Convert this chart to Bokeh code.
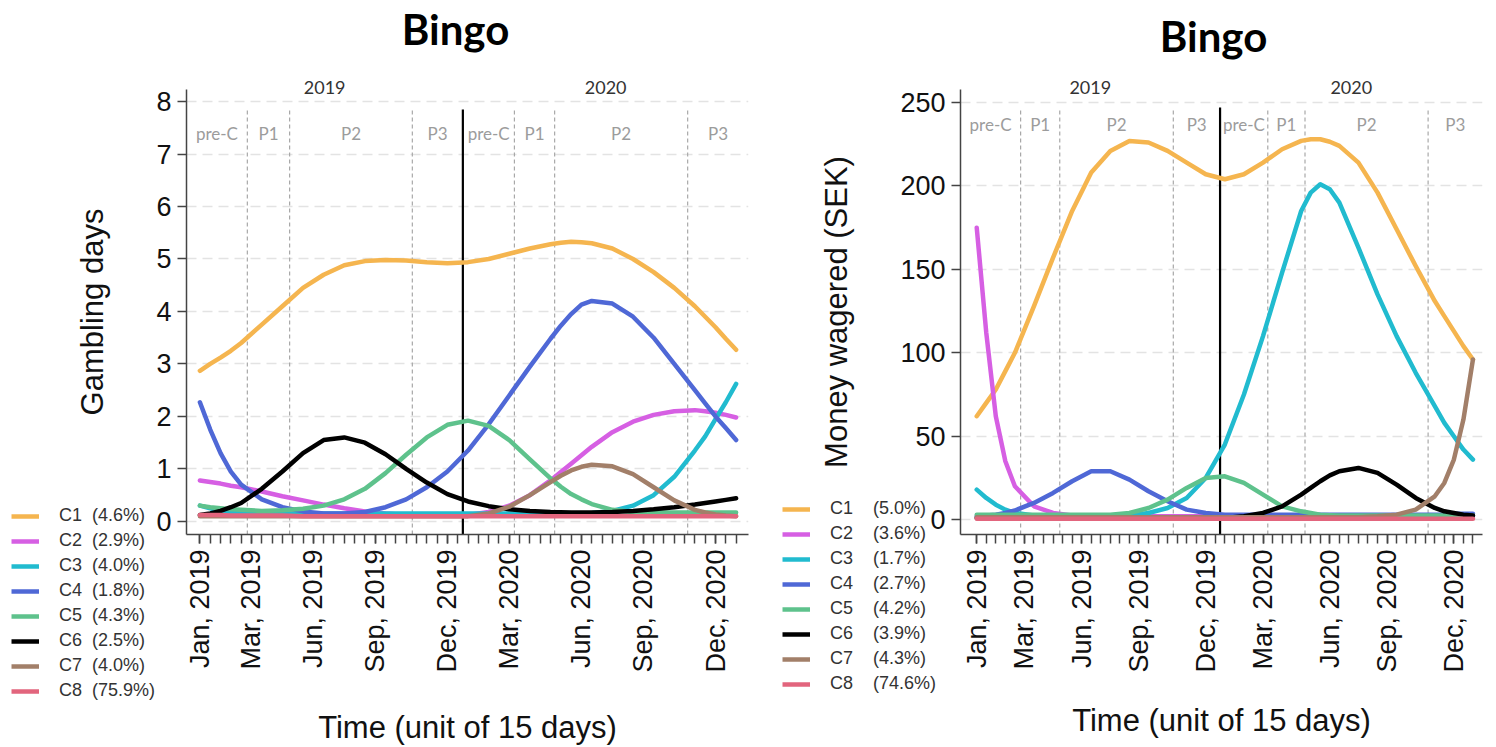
import numpy as np
from bokeh.plotting import figure
from bokeh.layouts import row
from bokeh.models import Range1d, FixedTicker, Label, Legend, LegendItem, LinearAxis
from bokeh.embed import file_html
from bokeh.resources import INLINE

# ---------------- data ----------------
t = [0, 1, 2, 3, 4, 6, 8, 10, 12, 14, 16, 18, 20, 22, 24, 26, 28, 30, 32, 34,
     35, 36, 37, 38, 40, 42, 44, 46, 48, 49, 50, 51, 52]

tick_pos = [0, 5, 11, 17, 24, 30, 37, 43, 50]
tick_labels = ["Jan, 2019", "Mar, 2019", "Jun, 2019", "Sep, 2019", "Dec, 2019",
               "Mar, 2020", "Jun, 2020", "Sep, 2020", "Dec, 2020"]
n_units = 53
year_boundary = 25.5
period_bounds = [4.6, 8.7, 20.6, 25.5, 30.5, 34.4, 47.3]
period_names = ["pre-C", "P1", "P2", "P3", "pre-C", "P1", "P2", "P3"]
years = ["2019", "2020"]
chart_title = "Bingo"

classes = ["C1", "C2", "C3", "C4", "C5", "C6", "C7", "C8"]
colors = ["#F5B54F", "#D65FE3", "#21BBCF", "#4F68D6", "#5EC28C", "#000000", "#A27F69", "#E2657D"]

days_share = ["4.6%", "2.9%", "4.0%", "1.8%", "4.3%", "2.5%", "4.0%", "75.9%"]
days_c1 = [2.87, 3.0, 3.12, 3.25, 3.4, 3.75, 4.1, 4.45, 4.7, 4.88, 4.96, 4.98, 4.97, 4.94, 4.92, 4.94,
           5.0, 5.1, 5.2, 5.28, 5.31, 5.33, 5.32, 5.3, 5.2, 5.0, 4.75, 4.45, 4.1, 3.9, 3.7, 3.48, 3.27]
days_c2 = [0.78, 0.75, 0.72, 0.68, 0.65, 0.57, 0.48, 0.4, 0.32, 0.25, 0.19, 0.15, 0.12, 0.11, 0.11, 0.12,
           0.18, 0.3, 0.5, 0.78, 0.94, 1.1, 1.26, 1.42, 1.7, 1.9, 2.03, 2.1, 2.12, 2.1, 2.07, 2.03, 1.98]
days_c3 = [0.3, 0.25, 0.2, 0.17, 0.16, 0.15, 0.15, 0.15, 0.15, 0.15, 0.15, 0.15, 0.15, 0.15, 0.15, 0.15,
           0.15, 0.15, 0.15, 0.15, 0.15, 0.15, 0.15, 0.16, 0.2, 0.3, 0.5, 0.85, 1.35, 1.62, 1.95, 2.27, 2.62]
days_c4 = [2.27, 1.75, 1.3, 0.95, 0.7, 0.42, 0.27, 0.19, 0.15, 0.15, 0.18, 0.27, 0.42, 0.65, 0.95, 1.35,
           1.85, 2.4, 2.95, 3.48, 3.73, 3.95, 4.13, 4.2, 4.15, 3.9, 3.5, 3.0, 2.5, 2.25, 2.0, 1.78, 1.55]
days_c5 = [0.3, 0.27, 0.25, 0.23, 0.22, 0.2, 0.21, 0.24, 0.3, 0.42, 0.62, 0.92, 1.27, 1.6, 1.84, 1.92,
           1.82, 1.55, 1.18, 0.82, 0.66, 0.52, 0.42, 0.33, 0.22, 0.18, 0.17, 0.17, 0.17, 0.17, 0.17, 0.17, 0.17]
days_c6 = [0.12, 0.15, 0.2, 0.27, 0.35, 0.62, 0.95, 1.3, 1.55, 1.6, 1.5, 1.28, 1.0, 0.74, 0.52, 0.38,
           0.29, 0.23, 0.2, 0.18, 0.175, 0.17, 0.17, 0.17, 0.18, 0.2, 0.23, 0.27, 0.32, 0.35, 0.38, 0.41, 0.44]
days_c7 = [0.1, 0.1, 0.1, 0.1, 0.1, 0.1, 0.1, 0.1, 0.1, 0.1, 0.1, 0.1, 0.1, 0.1, 0.1, 0.1,
           0.15, 0.28, 0.5, 0.75, 0.87, 0.97, 1.04, 1.08, 1.05, 0.9, 0.65, 0.4, 0.22, 0.17, 0.13, 0.11, 0.1]
days_c8 = [0.12, 0.12, 0.12, 0.11, 0.11, 0.11, 0.11, 0.1, 0.1, 0.1, 0.1, 0.1, 0.1, 0.1, 0.1, 0.1,
           0.1, 0.1, 0.1, 0.1, 0.1, 0.1, 0.1, 0.1, 0.1, 0.1, 0.1, 0.1, 0.1, 0.1, 0.1, 0.1, 0.1]

money_share = ["5.0%", "3.6%", "1.7%", "2.7%", "4.2%", "3.9%", "4.3%", "74.6%"]
money_c1 = [62, 70, 78, 89, 100, 128, 157, 185, 208, 221, 227, 226, 221, 214, 207, 204,
            207, 214, 222, 227, 228, 228, 226.5, 224, 214, 196, 174, 152, 131, 122, 113, 104, 96]
money_c2 = [175, 112, 62, 35, 20, 8, 4, 2.5, 2, 2, 2, 2, 2, 2, 2, 2,
            2, 2, 2, 2, 2, 2, 2, 2, 2, 2, 2, 2, 2, 2, 2, 2, 2]
money_c3 = [18, 13, 9, 6, 4, 2.5, 2, 2, 2, 2, 2.5, 4, 7, 13, 25, 45,
            75, 110, 148, 185, 196, 201, 198, 190, 163, 135, 110, 88, 68, 58, 50, 42, 36]
money_c4 = [2, 2.5, 3, 4, 5.5, 10, 16, 23, 29, 29, 24, 17, 11, 6, 4, 3,
            3, 3, 3, 3, 3, 3, 3, 3, 3, 3, 3, 3, 3, 3, 3.5, 3.5, 3.5]
money_c5 = [3, 3, 3, 3, 3, 3, 3, 3, 3, 3, 4, 7, 12, 19, 25, 26,
            22, 15, 8, 5, 4, 3, 2.7, 2.5, 2.5, 2.5, 2.5, 2.5, 2.5, 2.5, 2.5, 2.5, 2.5]
money_c6 = [1, 1, 1, 1, 1, 1, 1, 1, 1, 1, 1, 1, 1, 1, 1, 1,
            2, 4, 8, 15, 19, 23, 26.5, 29, 31, 28, 21, 13, 7, 5, 4, 3, 2.5]
money_c7 = [1.5, 1.5, 1.5, 1.5, 1.5, 1.5, 1.5, 1.5, 1.5, 1.5, 1.5, 1.5, 1.5, 1.5, 1.5, 1.5,
            1.5, 1.5, 1.5, 1.5, 1.5, 1.5, 1.5, 1.5, 1.5, 2, 3, 6, 14, 22, 36, 60, 96]
money_c8 = [0.5] * 33

days_series = [days_c1, days_c2, days_c3, days_c4, days_c5, days_c6, days_c7, days_c8]
money_series = [money_c1, money_c2, money_c3, money_c4, money_c5, money_c6, money_c7, money_c8]

AX_FONT = "Liberation Sans"
CAL_FONT = "Lato"
H = 747
LEG_W = 700


def bare_figure(width):
    f = figure(width=width, height=H, output_backend="svg", toolbar_location=None,
               x_range=Range1d(0, 1), y_range=Range1d(0, 1),
               x_axis_location=None, y_axis_location=None, min_border=0)
    f.outline_line_color = None
    f.xgrid.visible = False
    f.ygrid.visible = False
    return f


def make_chart(series, ylabel, x_rng, y_rng, y_ticks, width, borders,
               period_y, period_top, xlab_standoff):
    bl, br, bt, bb = borders
    p = figure(width=width, height=H, output_backend="svg", toolbar_location=None,
               x_range=Range1d(*x_rng), y_range=Range1d(*y_rng),
               min_border_left=bl, min_border_right=br, min_border_top=bt, min_border_bottom=bb)
    p.outline_line_color = None
    p.background_fill_color = "white"
    p.border_fill_color = None

    p.xgrid.visible = False
    p.ygrid.grid_line_color = "#e3e3e3"
    p.ygrid.grid_line_dash = "10 6"
    p.ygrid.grid_line_width = 1.5

    p.xaxis.ticker = FixedTicker(ticks=tick_pos, minor_ticks=list(range(n_units)))
    p.xaxis.major_label_overrides = {pos: lab for pos, lab in zip(tick_pos, tick_labels)}
    p.xaxis.major_label_orientation = np.pi / 2
    p.yaxis.ticker = FixedTicker(ticks=y_ticks, minor_ticks=[])
    for ax in (p.xaxis[0], p.yaxis[0]):
        ax.axis_line_color = "#444444"
        ax.axis_line_width = 1.5
        ax.major_tick_line_color = "#444444"
        ax.minor_tick_line_color = "#444444"
        ax.major_tick_line_width = 1.5
        ax.minor_tick_line_width = 1.5
        ax.major_tick_in = 0
        ax.major_tick_out = 9
        ax.minor_tick_in = 0
        ax.minor_tick_out = 9
        ax.major_label_text_font = AX_FONT
        ax.major_label_text_font_size = "27px"
        ax.major_label_text_color = "#111111"
        ax.axis_label_text_font = AX_FONT
        ax.axis_label_text_font_size = "31px"
        ax.axis_label_text_font_style = "normal"
        ax.axis_label_text_color = "#111111"
    p.xaxis.axis_label = "Time (unit of 15 days)"
    p.xaxis.axis_label_standoff = xlab_standoff
    p.yaxis.axis_label = ylabel
    p.yaxis.axis_label_standoff = 43
    p.yaxis.major_label_standoff = 6
    p.xaxis.major_label_standoff = 6

    # year labels on a top axis
    yedges = [x_rng[0], year_boundary, x_rng[1]]
    ycent = [round((yedges[i] + yedges[i + 1]) / 2, 2) for i in range(2)]
    ya = LinearAxis(ticker=FixedTicker(ticks=ycent, minor_ticks=[]),
                    major_label_overrides={c: y for c, y in zip(ycent, years)})
    ya.axis_line_color = None
    ya.major_tick_line_color = None
    ya.minor_tick_line_color = None
    ya.major_tick_out = 0
    ya.major_label_standoff = -4
    ya.major_label_text_font = CAL_FONT
    ya.major_label_text_font_size = "18px"
    ya.major_label_text_color = "#333333"
    p.add_layout(ya, "above")

    # period dividers
    dashed = [b for b in period_bounds if b != year_boundary]
    p.segment(x0=dashed, y0=[y_rng[0]] * len(dashed), x1=dashed, y1=[period_top] * len(dashed),
              line_color="#a8a8a8", line_dash="4 3", line_width=1.2)
    p.segment(x0=[year_boundary], y0=[y_rng[0]], x1=[year_boundary], y1=[period_top],
              line_color="black", line_width=2.2)

    edges = [x_rng[0]] + period_bounds + [x_rng[1]]
    for i, name in enumerate(period_names):
        cx = (edges[i] + edges[i + 1]) / 2
        p.add_layout(Label(x=cx, y=period_y, text=name, text_align="center", text_baseline="middle",
                           text_font=CAL_FONT, text_font_size="17px", text_color="#9c9c9c"))

    for col, vals in zip(colors, series):
        p.line(t, vals, line_color=col, line_width=4.5, line_join="round", line_cap="round")
    return p


def make_legend_fig(shares, gap, loc):
    lf = bare_figure(LEG_W)
    items = []
    for c, col, s in zip(classes, colors, shares):
        r = lf.line(x=[0], y=[0], line_color=col, line_width=4.5)
        items.append(LegendItem(label=c + "\u00a0" * gap + "(" + s + ")", renderers=[r]))
    leg = Legend(items=items, location=loc)
    leg.background_fill_alpha = 0
    leg.border_line_color = None
    leg.padding = 0
    leg.margin = 0
    leg.spacing = 4
    leg.glyph_width = 28
    leg.glyph_height = 20
    leg.label_height = 20
    leg.label_standoff = 20
    leg.label_text_font = AX_FONT
    leg.label_text_font_size = "18px"
    leg.label_text_color = "#333333"
    lf.add_layout(leg, "left")
    return lf


def make_title_fig(width, standoff):
    # the chart title, drawn as the label of an empty top axis
    tf = bare_figure(width)
    tf.background_fill_color = None
    tf.border_fill_color = None
    ax = LinearAxis(ticker=FixedTicker(ticks=[], minor_ticks=[]), axis_label=chart_title)
    ax.axis_line_color = None
    ax.major_tick_line_color = None
    ax.minor_tick_line_color = None
    ax.major_tick_out = 0
    ax.major_tick_in = 0
    ax.major_label_standoff = 0
    ax.axis_label_standoff = standoff
    ax.axis_label_text_font = CAL_FONT
    ax.axis_label_text_font_size = "42px"
    ax.axis_label_text_font_style = "bold"
    ax.axis_label_text_color = "#000000"
    tf.add_layout(ax, "above")
    return tf


p1 = make_chart(days_series, "Gambling days",
                x_rng=(-1.3, 53.2), y_rng=(-0.25, 8.23), y_ticks=list(range(0, 9)),
                width=768, borders=(186, 20, 88, 212),
                period_y=7.4, period_top=7.85, xlab_standoff=34)
p2 = make_chart(money_series, "Money wagered (SEK)",
                x_rng=(-1.7, 53.0), y_rng=(-8.9, 257.8), y_ticks=[0, 50, 100, 150, 200, 250],
                width=728, borders=(192, 14, 88, 212),
                period_y=237, period_top=247, xlab_standoff=27)
lf1 = make_legend_fig(days_share, 2, (11, -167))
lf2 = make_legend_fig(money_share, 4, (14, -160))
tf1 = make_title_fig(910, 36)    # spans page x 0..910, centred at 455
tf2 = make_title_fig(566, 29)    # spans page x 930..1496, centred at 1213

# overlap the pieces with negative left margins
tf1.margin = (0, 0, 0, -LEG_W)          # lf1: 0..700   -> tf1 starts at 0
p1.margin = (0, 0, 0, -910)             # tf1: 0..910   -> p1 starts at 0
tf2.margin = (0, 0, 0, -538)            # lf2: 768..1468 -> tf2 starts at 930
p2.margin = (0, 0, 0, -728)             # tf2: 930..1496 -> p2 starts at 768

layout = row(lf1, tf1, p1, lf2, tf2, p2)
open("out.html", "w").write(file_html(layout, INLINE))
